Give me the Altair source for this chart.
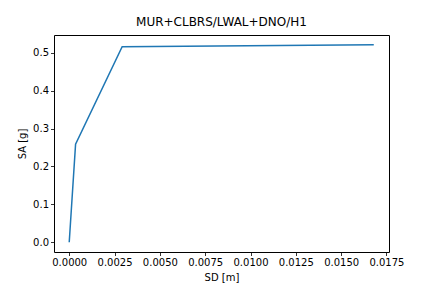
import altair as alt
import pandas as pd

sd = [0.0, 0.00035, 0.00292, 0.0168]
sa = [0.0, 0.259, 0.516, 0.521]
x_ticks = [0.0, 0.0025, 0.005, 0.0075, 0.01, 0.0125, 0.015, 0.0175]
y_ticks = [0.0, 0.1, 0.2, 0.3, 0.4, 0.5]

df = pd.DataFrame({"SD": sd, "SA": sa, "order": list(range(len(sd)))})

font = "DejaVu Sans"

chart = alt.Chart(df).mark_line(color="#1f77b4", strokeWidth=1.5).encode(
    x=alt.X("SD:Q", title="SD [m]",
            scale=alt.Scale(domain=[-0.00084, 0.01764], nice=False, zero=False),
            axis=alt.Axis(values=x_ticks, format=".4f")),
    y=alt.Y("SA:Q", title="SA [g]",
            scale=alt.Scale(domain=[-0.0256, 0.5467], nice=False, zero=False),
            axis=alt.Axis(values=y_ticks, format=".1f")),
    order="order:Q",
).properties(
    width=335, height=217,
    title=alt.TitleParams("MUR+CLBRS/LWAL+DNO/H1", font=font, fontSize=12,
                          fontWeight="normal", color="black", offset=6),
    autosize=alt.AutoSizeParams(type="none"),
    padding={"left": 54, "top": 35, "right": 43, "bottom": 36},
).configure_view(
    stroke="black", strokeWidth=1
).configure_axis(
    grid=False, domain=False,
    tickColor="black", tickSize=3.5, tickWidth=0.8,
    labelFont=font, labelFontSize=10, labelColor="black", labelPadding=2,
    titleFont=font, titleFontSize=10, titleColor="black", titleFontWeight="normal",
).configure_axisX(titlePadding=5).configure_axisY(titlePadding=5)

chart.save("out.html", embed_options={"renderer": "svg", "actions": False})
